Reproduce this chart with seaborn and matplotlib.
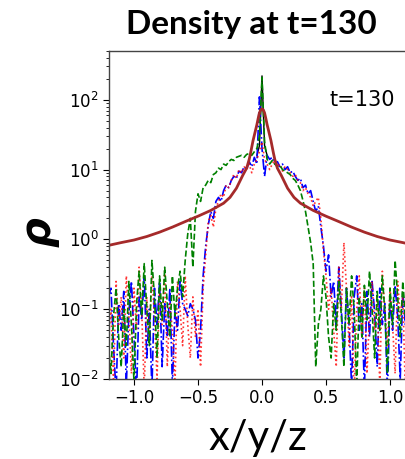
import numpy as np
import pandas as pd
import matplotlib
matplotlib.use("Agg")
import matplotlib.pyplot as plt
import seaborn as sns

# Positions along the cut (x, y or z), step 0.02
pos = [round(-1.2 + 0.02 * i, 2) for i in range(121)]

rho_x = [0.03, 0.012, 0.08, 0.2, 0.04, 0.015, 0.1, 0.03, 0.25, 0.06,
         0.009, 0.12, 0.35, 0.08, 0.45, 0.1, 0.03, 0.5, 0.15, 0.02,
         0.3, 0.07, 0.4, 0.12, 0.04, 0.3, 0.08, 0.2, 0.35, 0.15,
         0.5, 1.2, 2.0, 0.4, 2.5, 4.5, 3.5, 5.5, 6.0, 7.0,
         6.5, 8.5, 9.0, 10.5, 10.0, 12.0, 11.5, 13.0, 14.0, 13.5,
         15.0, 15.5, 16.0, 15.0, 16.5, 17.0, 16.0, 18.0, 20.0, 30.0,
         210.0, 25.0, 14.0, 12.0, 13.5, 12.0, 11.0, 11.5, 10.0, 9.5,
         9.0, 8.5, 7.5, 7.0, 6.0, 5.0, 3.6, 2.5, 1.5, 0.9,
         0.45, 0.015, 0.06, 0.1, 0.3, 0.15, 0.04, 0.02,
         0.12, 0.05, 0.25, 0.08, 0.015, 0.2, 0.06, 0.3, 0.1, 0.008,
         0.15, 0.04, 0.22, 0.07, 0.35, 0.1, 0.02, 0.18, 0.05, 0.3,
         0.09, 0.012, 0.2, 0.06, 0.5, 0.15, 0.04, 0.25, 0.08, 0.3,
         0.1, 0.03, 0.15]

rho_y = [0.15, 0.2, 0.03, 0.006, 0.12, 0.05, 0.18, 0.008, 0.09, 0.25,
         0.04, 0.006, 0.15, 0.07, 0.3, 0.02, 0.1, 0.007, 0.2, 0.06,
         0.25, 0.015, 0.12, 0.04, 0.2, 0.008, 0.1, 0.05, 0.25, 0.12,
         0.1, 0.08, 0.12, 0.1, 0.07, 0.02, 0.05, 0.3, 0.8, 1.6,
         2.5, 2.0, 3.5, 4.0, 3.5, 5.0, 6.0, 5.5, 7.0, 8.0,
         7.5, 9.5, 9.0, 11.0, 10.0, 13.0, 11.0, 15.0, 12.0, 110.0,
         20.0, 8.0, 16.0, 14.0, 15.0, 12.0, 13.0, 11.0, 12.0, 10.0,
         11.0, 9.0, 9.5, 8.0, 7.0, 7.5, 5.5, 6.0, 4.5, 5.0,
         3.5, 2.5, 3.0, 1.5, 0.8, 0.35, 0.6, 0.15, 0.25, 0.06,
         0.4,
         0.1, 0.02, 0.2, 0.06, 0.008, 0.15, 0.3, 0.05, 0.12, 0.007,
         0.18, 0.04, 0.25, 0.09, 0.015, 0.2, 0.06, 0.12, 0.006, 0.15,
         0.05, 0.22, 0.08, 0.01, 0.18, 0.06, 0.3, 0.1, 0.02, 0.15]

rho_z = [0.04, 0.1, 0.008, 0.25, 0.06, 0.15, 0.02, 0.3, 0.08, 0.012,
         0.2, 0.05, 0.4, 0.1, 0.007, 0.15, 0.04, 0.3, 0.08, 0.01,
         0.2, 0.06, 0.35, 0.015, 0.12, 0.05, 0.008, 0.25, 0.1, 0.03,
         0.3, 0.06, 0.02, 0.15, 0.04, 0.1, 0.015, 0.2, 0.6, 1.8,
         2.2, 1.5, 2.8, 3.5, 4.5, 4.0, 6.0, 5.5, 7.0, 8.5,
         7.5, 10.0, 9.0, 11.0, 10.0, 12.0, 9.0, 12.0, 14.0, 18.0,
         25.0, 14.0, 12.0, 10.0, 12.0, 14.0, 11.0, 12.0, 9.5, 11.0,
         10.0, 9.0, 8.0, 8.5, 7.0, 6.5, 5.0, 5.5, 4.5, 4.0,
         3.0, 3.5, 4.0, 2.0, 0.7, 0.3, 0.1, 0.2, 0.05, 0.015,
         0.4, 0.1, 0.9, 0.2,
         0.03, 0.15, 0.006, 0.1, 0.3, 0.04, 0.2, 0.012, 0.08, 0.25,
         0.05, 0.15, 0.008, 0.35, 0.1, 0.03, 0.2, 0.06, 0.012, 0.25,
         0.08, 0.15, 0.007, 0.3, 0.1, 0.04, 0.2]

# Radially averaged profile near the centre
pos_avg = [-0.04, -0.02, 0.0, 0.02, 0.04]
rho_avg = [16.0, 22.0, 220.0, 22.0, 16.0]

# Analytic density profile
pos_model = [-1.2, -1.1, -1.0, -0.9, -0.8, -0.7, -0.6, -0.5, -0.4, -0.3,
             -0.25, -0.2, -0.15, -0.12, -0.1, -0.09, -0.08, -0.07, -0.06,
             -0.05, -0.04, -0.03, -0.02, -0.01, 0.0,
             0.01, 0.02, 0.03, 0.04, 0.05, 0.06, 0.07, 0.08, 0.09,
             0.1, 0.12, 0.15, 0.2, 0.25, 0.3,
             0.4, 0.5, 0.6, 0.7, 0.8, 0.9, 1.0, 1.1, 1.2]
rho_model = [0.82, 0.9, 0.98, 1.1, 1.27, 1.5, 1.8, 2.15, 2.6, 3.3,
             4.0, 5.4, 8.3, 10.5, 14.0, 17.0, 21.0, 26.0, 31.0,
             37.0, 44.0, 54.0, 65.0, 72.0, 74.0,
             72.0, 65.0, 54.0, 44.0, 37.0, 31.0, 26.0, 21.0, 17.0,
             14.0, 10.5, 8.3, 5.4, 4.0, 3.3,
             2.6, 2.15, 1.8, 1.5, 1.27, 1.1, 0.98, 0.9, 0.82]

df = pd.DataFrame({"pos": pos, "x": rho_x, "y": rho_y, "z": rho_z})
df_avg = pd.DataFrame({"pos": pos_avg, "rho": rho_avg})
df_model = pd.DataFrame({"pos": pos_model, "rho": rho_model})

sns.set_style("ticks", rc={"text.color": "black", "axes.labelcolor": "black",
                           "xtick.color": "black", "ytick.color": "black"})
plt.rcParams["font.family"] = ["DejaVu Sans"]

fig = plt.figure(figsize=(4.05, 4.59), dpi=100)
ax = fig.add_axes([109 / 405, 80 / 459, 298 / 405, 328 / 459])

sns.lineplot(data=df_avg, x="pos", y="rho", ax=ax, color="k", lw=1.0)
sns.lineplot(data=df, x="pos", y="y", ax=ax, color="b", lw=1.2, linestyle="-.")
sns.lineplot(data=df, x="pos", y="z", ax=ax, color="r", lw=1.2, linestyle=":", alpha=0.8)
sns.lineplot(data=df, x="pos", y="x", ax=ax, color="g", lw=1.2, linestyle="--")
sns.lineplot(data=df_model, x="pos", y="rho", ax=ax, color="#a52a2a", lw=2.0)

ax.set_yscale("log")
ax.set_ylim(0.01, 500)
ax.set_xlim((109 - 262) / 128, (407 - 262) / 128)
ax.set_xticks([-1.0, -0.5, 0.0, 0.5, 1.0])
ax.tick_params(axis="both", which="major", labelsize=12, direction="out", length=4)
ax.tick_params(axis="y", which="minor", length=2)
for s in ax.spines.values():
    s.set_color("#444444")
    s.set_linewidth(1.0)

ax.text(0.96, 0.85, "t=130", transform=ax.transAxes, fontsize=15,
        ha="right", va="center", color="black")

ax.set_xlabel("x/y/z", fontsize=30, family="Lato", labelpad=8)
ax.set_ylabel("ρ", fontsize=30, fontweight="bold", style="italic")
ax.yaxis.set_label_coords((60 - 109) / 298, (379 - 232) / 328)
ax.set_title("Density at t=130", fontsize=24, fontweight="bold", family="Lato",
             x=(251 - 109) / 298, pad=12)

fig.savefig("out.png", dpi=100)
